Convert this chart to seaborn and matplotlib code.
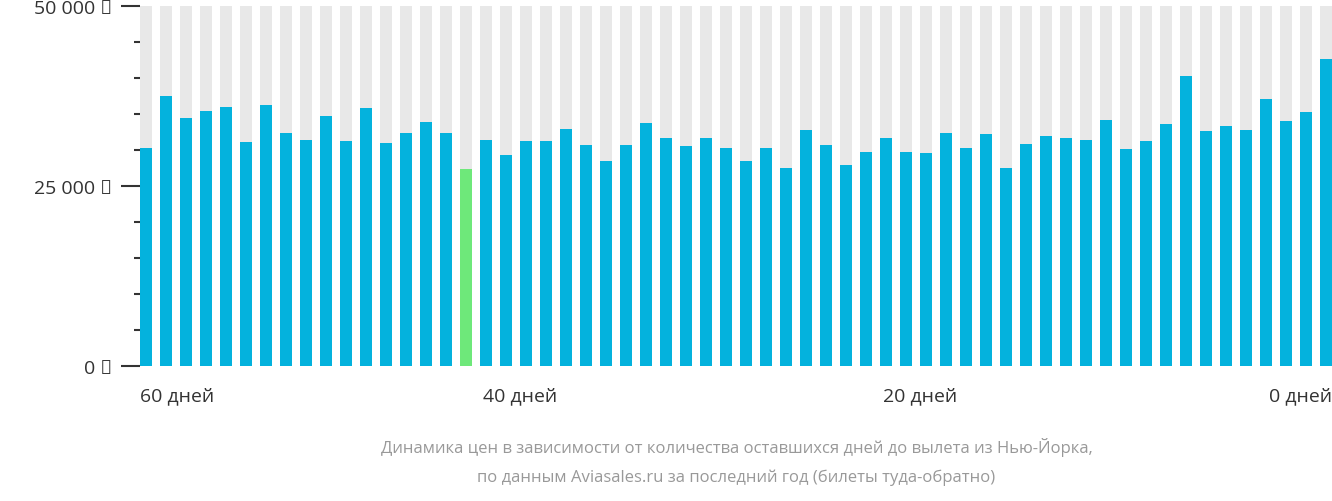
import matplotlib
matplotlib.use("Agg")
import matplotlib.pyplot as plt
import numpy as np
import pandas as pd
import seaborn as sns

# prices (RUB) by days left before departure, 60 days -> 1 day
prices = [30300, 37500, 34400, 35400, 36000, 31100, 36300, 32400, 31400, 34700,
          31300, 35800, 31000, 32400, 33900, 32400, 27400, 31400, 29300, 31300,
          31300, 32900, 30700, 28500, 30700, 33800, 31700, 30600, 31700, 30300,
          28500, 30300, 27500, 32800, 30700, 27900, 29700, 31700, 29700, 29600,
          32400, 30300, 32200, 27500, 30800, 31900, 31700, 31400, 34200, 30100,
          31300, 33600, 40300, 32600, 33300, 32800, 37100, 34000, 35300, 42600]
highlight = 16  # cheapest-looking bar shown in green
x_labels = ["60 дней", "40 дней", "20 дней", "0 дней"]
y_ticks = [0, 25000, 50000]
y_labels = ["0 ₽", "25 000 ₽", "50 000 ₽"]
caption = ("Динамика цен в зависимости от количества оставшихся дней до вылета из Нью-Йорка,\n"
           "по данным Aviasales.ru за последний год (билеты туда-обратно)")

plt.rcParams["font.family"] = "Open Sans"
df = pd.DataFrame({"i": range(len(prices)), "price": prices})
colors = ["#6ee87a" if i == highlight else "#04b2dd" for i in df["i"]]

fig = plt.figure(figsize=(13.32, 5.02), dpi=100)
ax = fig.add_axes([0.105, 0.269, 0.895, 0.717])
sns.barplot(x=df["i"], y=[50000] * len(df), color="#e8e8e8", width=0.6,
            saturation=1, ax=ax)
sns.barplot(data=df, x="i", y="price", hue="i", palette=colors, legend=False,
            width=0.6, saturation=1, ax=ax)

ax.set_xlim(-0.3, len(prices) - 0.7)
ax.set_ylim(0, 50000)
ax.set_yticks(y_ticks, y_labels, fontsize=14, color="#333333")
ax.set_yticks(np.arange(0, 50001, 5000), minor=True)
ax.tick_params(axis="y", which="major", length=14, width=1.5, color="#333333", pad=6)
ax.tick_params(axis="y", which="minor", length=4, width=1.5, color="#333333")
ax.set_xticks([])
ax.set(xlabel="", ylabel="")
for s in ax.spines.values():
    s.set_visible(False)

kw = dict(transform=ax.get_xaxis_transform(), fontsize=14, color="#333333", va="center")
ax.text(-0.3, -0.08, x_labels[0], ha="left", **kw)
ax.text(18.7, -0.08, x_labels[1], ha="center", **kw)
ax.text(38.7, -0.08, x_labels[2], ha="center", **kw)
ax.text(len(prices) - 0.7, -0.08, x_labels[3], ha="right", **kw)

fig.text(0.553, 0.08, caption, ha="center", va="center", fontsize=12,
         color="#999999", linespacing=2.0)
fig.savefig("out.png", dpi=100)
